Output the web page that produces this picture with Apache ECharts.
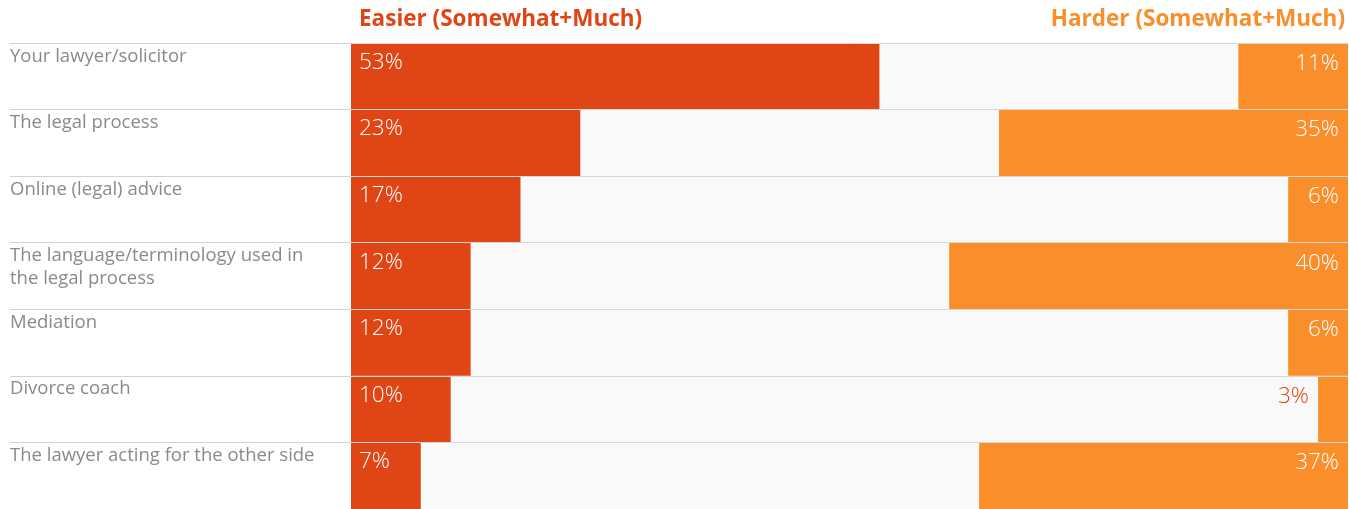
<!DOCTYPE html>
<html><head><meta charset="utf-8">
<script src="https://cdn.jsdelivr.net/npm/echarts@6/dist/echarts.min.js"></script>
<style>html,body{margin:0;padding:0;background:#fff}#c{width:1349px;height:509px}</style>
</head><body><div id="c"></div>
<script>
var categories = ["Your lawyer/solicitor","The legal process","Online (legal) advice","The language/terminology used in\nthe legal process","Mediation","Divorce coach","The lawyer acting for the other side"];
var easier = [53,23,17,12,12,10,7];
var harder = [11,35,6,40,6,3,37];
var titles = ["Easier (Somewhat+Much)","Harder (Somewhat+Much)"];

var DARK = '#E04515', LIGHT = '#F98E2B', FONT = '"Open Sans", Inter, sans-serif';
var harderData = harder.map(function(v){
  if (v < 5) return {value:v, label:{color:DARK, offset:[-30,0]}};
  return v;
});
var chart = echarts.init(document.getElementById('c'));
chart.setOption({
  animation:false,
  title:[
    {text:titles[0], left:359, top:8, padding:0, textStyle:{color:DARK, fontSize:22.5, fontWeight:'bold', fontFamily:FONT}},
    {text:titles[1], right:4, top:8, padding:0, textStyle:{color:LIGHT, fontSize:22.5, fontWeight:'bold', fontFamily:FONT}}
  ],
  grid:{left:351, right:1, top:43, bottom:0, outerBoundsMode:'none', containLabel:false},
  xAxis:[
    {type:'value', min:0, max:100, show:false},
    {type:'value', min:0, max:100, inverse:true, show:false}
  ],
  yAxis:{
    type:'category', data:categories, inverse:true, z:10,
    axisLine:{show:false},
    axisTick:{show:true, length:341, lineStyle:{color:'#d2d2d2', width:1}},
    splitLine:{show:true, lineStyle:{color:'#d6d6d6', width:1}},
    axisLabel:{
      interval:0, showMinLabel:true, showMaxLabel:true, hideOverlap:false,
      align:'left', margin:341, color:'#8a8a8a', fontSize:18.5, fontFamily:FONT,
      lineHeight:23,
      rich:{e:{lineHeight:17, fontSize:10}},
      formatter:function(v){ var n = v.split('\n').length; var s = v; for(var i=n;i<2;i++) s += '\n '; return s + '\n{e| }'; }
    }
  },
  series:[
    {type:'bar', name:'Easier', xAxisIndex:0, data:easier, barCategoryGap:0, barGap:'-100%',
     itemStyle:{color:DARK}, showBackground:true, backgroundStyle:{color:'#f9f9f9'},
     label:{show:true, position:'insideTopLeft', distance:8, color:'#fff', fontSize:22.5, fontWeight:300, fontFamily:FONT, formatter:'{c}%'}},
    {type:'bar', name:'Harder', xAxisIndex:1, data:harderData, barCategoryGap:0, barGap:'-100%',
     itemStyle:{color:LIGHT},
     label:{show:true, position:'insideTopRight', distance:9, color:'#fff', fontSize:22.5, fontWeight:300, fontFamily:FONT, formatter:'{c}%'}}
  ]
});
</script></body></html>
